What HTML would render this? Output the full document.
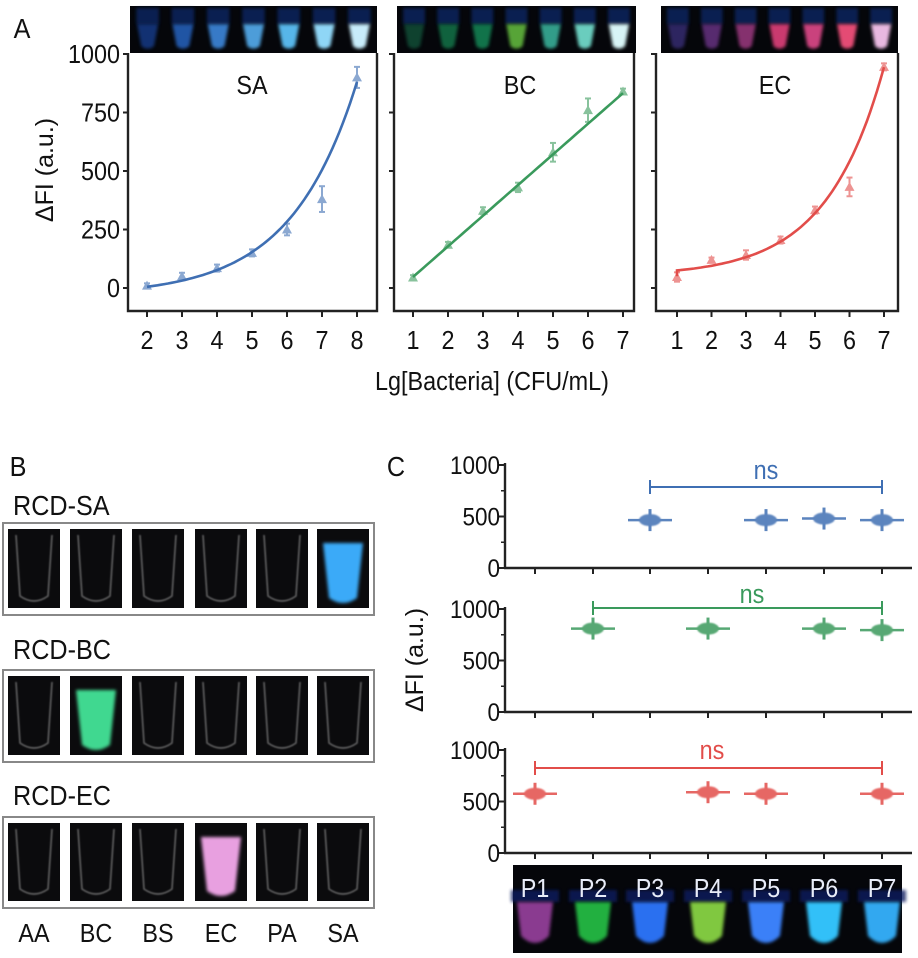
<!DOCTYPE html>
<html><head><meta charset="utf-8"><style>
html,body{margin:0;padding:0;background:#fff;}
svg{display:block;font-family:"Liberation Sans",Arial,sans-serif;}
</style></head><body>
<svg id="s" width="918" height="958" viewBox="0 0 918 958" xmlns="http://www.w3.org/2000/svg">
<defs>
<filter id="bl" x="-30%" y="-30%" width="160%" height="160%"><feGaussianBlur stdDeviation="1.5"/></filter>
<filter id="bl2" x="-30%" y="-30%" width="160%" height="160%"><feGaussianBlur stdDeviation="0.8"/></filter>
</defs>
<g id="g"></g>
</svg>
<script>
var g=document.getElementById('g'),out='';
function add(s){out+=s;}
function txt(x,y,t,sz,fill,anchor,extra){
  var tr='translate('+x+' '+y+') scale(0.9 1)';
  if(extra){add('<text x="'+x+'" y="'+y+'" font-size="'+sz+'" fill="'+(fill||'#111')+'" text-anchor="'+(anchor||'middle')+'" '+extra+'>'+t+'</text>');return;}
  add('<text x="0" y="0" transform="'+tr+'" font-size="'+sz+'" fill="'+(fill||'#111')+'" text-anchor="'+(anchor||'middle')+'">'+t+'</text>');}
function line(x1,y1,x2,y2,c,w){add('<line x1="'+x1+'" y1="'+y1+'" x2="'+x2+'" y2="'+y2+'" stroke="'+c+'" stroke-width="'+(w||2)+'"/>');}
var BL='#3f6fb3',GR='#3a9a5c',RD='#e24d4a';
function tube(cx,top,w,h,col,bright){
  var x0=cx-w/2;
  add('<path d="M'+x0+' '+top+' L'+(x0+w)+' '+top+' L'+(x0+w*0.8)+' '+(top+h*0.85)+' Q'+cx+' '+(top+h*1.05)+' '+(x0+w*0.2)+' '+(top+h*0.85)+' Z" fill="'+col+'" opacity="'+bright+'" filter="url(#bl)"/>');
}
txt(22,38,'A',28,'#111');
var panels=[
 {L:128,R:377,x0:147,dx:35,n0:2,title:'SA',tx:252,col:BL,
  pts:[10,50,85,150,250,380,900],err:[10,15,15,15,25,55,45],
  f:function(x){return 38*(Math.exp(0.53*(x-2))-1)+5;},
  tubes:['#1c4fb8','#2b6fd8','#3f8fe8','#55aef0','#5cc0f5','#8fd6f6','#c8ecfa'],sb:[0.6,0.75,0.85,0.9,0.95,1,1],sl:130,sr:377},
 {L:394,R:634,x0:413,dx:35,n0:1,title:'BC',tx:520,col:GR,
  pts:[45,185,330,430,580,760,840],err:[10,12,15,20,40,50,12],
  f:function(x){return 47+(x-1)*(833-47)/6;},
  tubes:['#126a4a','#128a55','#149860','#66c040','#3ab8a0','#70d8c8','#d8f4f6'],sb:[0.6,0.7,0.75,0.85,0.85,0.95,1],sl:397,sr:636},
 {L:656,R:898,x0:677,dx:34.5,n0:1,title:'EC',tx:775,col:RD,
  pts:[47,120,141,205,333,432,945],err:[20,10,20,15,15,40,15],
  f:function(x){return 75+24.4*(Math.exp(0.6*(x-1))-1);},
  tubes:['#4a3a9a','#7a3a9a','#b04090','#e0407a','#e04a8a','#f0507a','#e8b8e0'],sb:[0.6,0.7,0.75,0.9,0.9,0.95,1],sl:661,sr:898}
];
function Y(v){return 288-v*0.234;}
panels.forEach(function(p,i){
  add('<rect x="'+p.sl+'" y="6" width="'+(p.sr-p.sl)+'" height="47" fill="#05060a"/>');
  var sw=(p.sr-p.sl)/7;
  for(var k=0;k<7;k++){var cx=p.sl+sw*(k+0.5);
    add('<rect x="'+(cx-sw*0.32)+'" y="8" width="'+(sw*0.64)+'" height="16" fill="#0a2a70" opacity="0.7" filter="url(#bl)"/>');
    tube(cx,24,sw*0.6,26,p.tubes[k],p.sb[k]);}
  add('<path d="M'+p.L+' 53 L'+p.L+' 311 L'+p.R+' 311 L'+p.R+' 53" fill="none" stroke="#222" stroke-width="2.4"/>');
  [0,250,500,750,1000].forEach(function(v){line(p.L-5,Y(v),p.L,Y(v),'#222',2); if(i==0) txt(p.L-8,Y(v)+9,v,26,'#111','end');});
  for(var k=0;k<7;k++){var x=p.x0+k*p.dx; line(x,311,x,317,'#222',2); txt(x,349,p.n0+k,26,'#111');}
  txt(p.tx,94,p.title,26,'#111');
  var d='';var n0=p.n0;
  for(var t=0;t<=60;t++){var xv=n0+6*t/60; var xp=p.x0+(xv-n0)*p.dx; var yv=p.f(xv); d+=(t?'L':'M')+xp.toFixed(1)+' '+Y(yv).toFixed(1);}
  if(i==2){d='M'+p.x0+' '+Y(50)+' L'+p.x0+' '+Y(p.f(1))+' '+d.replace('M','L');}
  add('<path d="'+d+'" fill="none" stroke="'+p.col+'" stroke-width="2.6"/>');
  for(var k=0;k<7;k++){var x=p.x0+k*p.dx,y=Y(p.pts[k]),e=p.err[k]*0.234;
    add('<g opacity="0.6">');line(x,y-e,x,y+e,p.col,2);line(x-3,y-e,x+3,y-e,p.col,2);line(x-3,y+e,x+3,y+e,p.col,2);
    add('<polygon points="'+x+','+(y-5)+' '+(x+5)+','+(y+4)+' '+(x-5)+','+(y+4)+'" fill="'+p.col+'"/></g>');}
});
txt(45,170,'ΔFI (a.u.)',25,'#111','middle','transform="rotate(-90 45 170)" dy="8"');
txt(492,390,'Lg[Bacteria] (CFU/mL)',26,'#111');
txt(18,476,'B',28,'#111');
var rows=[{lab:'RCD-SA',ty:515,y:523,h:92,hi:5,hc:'#3aaaf8'},{lab:'RCD-BC',ty:659,y:670,h:92,hi:1,hc:'#40d890'},{lab:'RCD-EC',ty:805,y:817,h:91,hi:3,hc:'#e8a0e0'}];
var bx=[8,70,132,195,256,317];
rows.forEach(function(r){
  txt(13,r.ty,r.lab,28,'#111','start');
  add('<rect x="3" y="'+r.y+'" width="371" height="'+r.h+'" fill="#fff" stroke="#888" stroke-width="2"/>');
  bx.forEach(function(x,k){
    add('<rect x="'+x+'" y="'+(r.y+6)+'" width="52" height="'+(r.h-13)+'" fill="#0b0b0d"/>');
    var cx=x+26,top=r.y+12,h=r.h-25;
    if(k==r.hi){add('<path d="M'+(x+6)+' '+(top+8)+' L'+(x+46)+' '+(top+8)+' L'+(x+40)+' '+(top+h-4)+' Q'+cx+' '+(top+h+6)+' '+(x+12)+' '+(top+h-4)+' Z" fill="'+r.hc+'" filter="url(#bl)"/>');}
    else{add('<path d="M'+(x+8)+' '+top+' L'+(x+12)+' '+(top+h-6)+' Q'+cx+' '+(top+h+4)+' '+(x+40)+' '+(top+h-6)+' L'+(x+44)+' '+top+'" fill="none" stroke="#888" stroke-width="1.6" opacity="0.7" filter="url(#bl2)"/>');}
  });
});
['AA','BC','BS','EC','PA','SA'].forEach(function(t,k){txt(bx[k]+26,942,t,26,'#111');});
txt(396,476,'C',28,'#111');
var P=[535,593,650,708,766,824,882];
var cp=[{z:568,col:BL,idx:[2,4,5,6],v:470,bar:487,b0:2,nsx:766,nsy:479},
        {z:712,col:GR,idx:[1,3,5,6],v:800,bar:608,b0:1,nsx:752,nsy:603},
        {z:853,col:RD,idx:[0,3,4,6],v:580,bar:768,b0:0,nsx:712,nsy:759}];
cp.forEach(function(c){
  var s=0.103;function YY(v){return c.z-v*s;}
  line(505,YY(1000)-2,505,c.z+1,'#222',2.4);line(504,c.z,912,c.z,'#222',2.4);
  [0,500,1000].forEach(function(v){line(499,YY(v),505,YY(v),'#222',2);txt(500,YY(v)+9,v,25,'#111','end');});
  [250,750].forEach(function(v){line(501,YY(v),505,YY(v),'#222',1.5);});
  P.forEach(function(x){line(x,c.z,x,c.z+6,'#222',2);});
  c.idx.forEach(function(k){var x=P[k],y=YY(c.v+(k%2?10:-5));
    add('<g opacity="0.85">');line(x-22,y,x+22,y,c.col,2.5);
    add('<ellipse cx="'+x+'" cy="'+y+'" rx="11" ry="6" fill="'+c.col+'" filter="url(#bl2)"/>');
    line(x,y-11,x,y+11,c.col,3);add('</g>');});
  var bxx=P[c.b0];line(bxx,c.bar,882,c.bar,c.col,2);line(bxx,c.bar-7,bxx,c.bar+7,c.col,2);line(882,c.bar-7,882,c.bar+7,c.col,2);
  txt(c.nsx,c.nsy,'ns',26,c.col);
});
txt(415,660,'ΔFI (a.u.)',25,'#111','middle','transform="rotate(-90 415 660)" dy="8"');
add('<rect x="513" y="865" width="389" height="88" fill="#05060a"/>');
var pc=['#8a3a90','#22b040','#2a70f0','#80c840','#3a80f8','#30c0f8','#30a8f0'];
P.forEach(function(x,k){
  add('<rect x="'+(x-24)+'" y="890" width="48" height="12" fill="#0a1a60" opacity="0.8" filter="url(#bl)"/>');
  add('<path d="M'+(x-18)+' 902 L'+(x+18)+' 902 L'+(x+14)+' 936 Q'+x+' 950 '+(x-14)+' 936 Z" fill="'+pc[k]+'" filter="url(#bl)"/>');
  txt(x,897,'P'+(k+1),26,'#e8ecf8');
});
g.innerHTML=out;
</script>
</body></html>
